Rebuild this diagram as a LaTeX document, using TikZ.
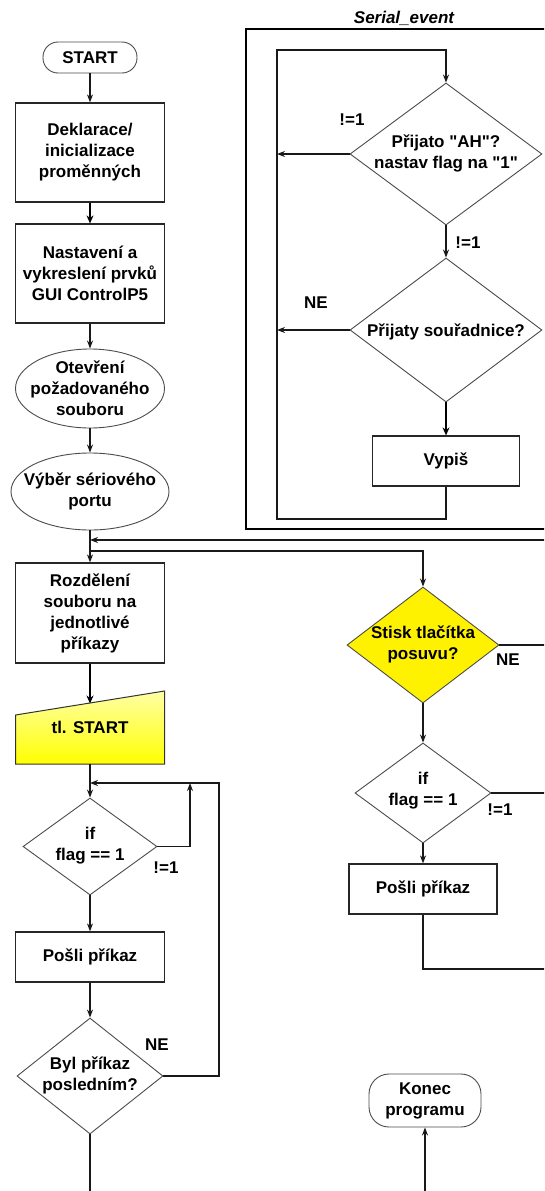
\documentclass[tikz,border=0pt]{standalone}
\usepackage{fontspec}
\setmainfont{Liberation Sans}
\usetikzlibrary{shapes.geometric,arrows.meta,calc}
\begin{document}
\begin{tikzpicture}[x=1pt,y=-1pt,
  txt/.style={font=\bfseries\fontsize{17}{21}\selectfont, align=center, inner sep=0pt},
  box/.style={txt, draw=black!85, line width=1.2pt, rectangle, minimum width=149pt},
  term/.style={txt, draw=black!70, line width=0.9pt, rectangle, rounded corners=#1},
  ell/.style={draw=black!70, line width=0.9pt, ellipse, inner sep=0pt},
  dia/.style={draw=black!70, line width=0.9pt, diamond, inner sep=0pt},
  lab/.style={txt},
  conn/.style={line width=1.3pt, black!90},
  arr/.style={conn, -{Stealth[length=8pt,width=6pt]}},
  tharr/.style={black, line width=2.6pt, -{Stealth[length=8pt,width=7pt]}},
  frame/.style={line width=2.6pt, black}]
\useasboundingbox (0,0) rectangle (544,1191);
\clip (0,0) rectangle (544,1191);
\fill[white] (0,0) rectangle (544,1191);

% ---------- left column ----------
\node[term=15pt, minimum width=94pt, minimum height=31pt] (start) at (90,57.5) {START};
\node[box, minimum height=99pt] (dekl) at (90,152.5) {Deklarace/\\inicializace\\proměnných};
\node[box, minimum height=99pt] (nast) at (90,273.5) {Nastavení a\\vykreslení prvků\\GUI ControlP5};
\node[ell, minimum width=149pt, minimum height=79pt] (otev) at (90,388.5) {};
\node[txt] at (otev) {Otevření\\požadovaného\\souboru};
\node[ell, minimum width=158pt, minimum height=77pt] (vyber) at (90,491.5) {};
\node[txt] at (vyber) {Výběr sériového\\portu};
\node[box, minimum height=100pt] (rozd) at (90,613) {Rozdělení\\souboru na\\jednotlivé\\příkazy};

\shade[top color=yellow!35, bottom color=yellow, draw=black!80, line width=1pt]
  (15.5,715) -- (164.5,691) -- (164.5,764) -- (15.5,764) -- cycle;
\node[txt] (tl) at (90,727) {tl. START};
\coordinate (tltop) at (90,703.5);
\coordinate (tlbot) at (90,764);

\node[dia, minimum width=134pt, minimum height=97pt] (if1) at (90,846.5) {};
\node[txt] at (90,846) {if\\flag == 1};
\node[box, minimum height=50pt] (posli1) at (90,957) {Pošli příkaz};
\node[dia, minimum width=146pt, minimum height=116pt] (byl) at (90,1076) {};
\node[txt] at (90,1075) {Byl příkaz\\posledním?};

\coordinate (j540) at (90,540);
\coordinate (r540) at (550,540);
\coordinate (j551) at (90,551);
\coordinate (j783) at (90,783);
\coordinate (k219) at (219,783);
\coordinate (k190) at (190,783);
\coordinate (lbot) at (90,1195);

\draw[arr] (start) -- (dekl);
\draw[tharr] (dekl) -- (nast);
\draw[arr] (nast) -- (otev);
\draw[arr] (otev) -- (vyber);
\draw[arr] (vyber) -- (rozd);
\draw[arr] (r540) -- (j540);
\draw[tharr] (rozd) -- (tltop);
\draw[arr] (tlbot) -- (if1.north);
\draw[arr] (byl.east) -| (k219) -- (j783);
\draw[arr] (if1.east) -| (k190);
\draw[arr] (if1.south) -- (posli1);
\draw[arr] (posli1) -- (byl.north);
\draw[conn] (byl.south) -- (lbot);
\node[lab] at (166,868) {!=1};
\node[lab] at (157,1045) {NE};

% ---------- Serial_event ----------
\draw[frame] (560,29) -- (246,29) -- (246,529) -- (560,529);
\node[txt, font=\bfseries\itshape\fontsize{17}{21}\selectfont] (ser) at (404,18) {Serial\_event};
\node[dia, minimum width=192pt, minimum height=142pt] (d1) at (446,154) {};
\node[txt] at (446,153) {Přijato \textquotedbl AH\textquotedbl ?\\nastav flag na \textquotedbl 1\textquotedbl};
\node[dia, minimum width=192pt, minimum height=144pt] (d2) at (446,330) {};
\node[txt] at (446,332) {Přijaty souřadnice?};
\node[box, minimum width=147pt, minimum height=50pt] (vypis) at (446,461) {Vypiš};
\coordinate (sBL) at (277,519);
\coordinate (sTL) at (277,50);
\draw[arr] (vypis.south) |- (sBL) -- (sTL) -| (d1.north);
\draw[arr] (d1.west) -- (d1.west -| sTL);
\draw[arr] (d1.south) -- (d2.north);
\draw[arr] (d2.west) -- (d2.west -| sTL);
\draw[tharr] (d2.south) -- (vypis.north);
\node[lab] at (352,120) {!=1};
\node[lab] at (468,243) {!=1};
\node[lab] at (316,303) {NE};

% ---------- right lower part ----------
\node[dia, fill=yellow, minimum width=152pt, minimum height=116pt] (stisk) at (423,645) {};
\node[txt] at (423,644) {Stisk tlačítka\\posuvu?};
\node[dia, minimum width=136pt, minimum height=100pt] (if2) at (423,793) {};
\node[txt] at (423,791) {if\\flag == 1};
\node[box, minimum width=148pt, minimum height=50pt] (posli2) at (423,889) {Pošli příkaz};
\node[term=20pt, minimum width=112pt, minimum height=53pt] (konec) at (425,1100.5) {Konec\\programu};

\coordinate (rs) at (550,645);
\coordinate (ri) at (550,793);
\coordinate (p969) at (423,969);
\coordinate (r969) at (550,969);
\coordinate (kbot) at (425,1195);

\draw[arr] (j551) -| (stisk.north);
\draw[conn] (stisk.east) -- (rs);
\draw[arr] (stisk.south) -- (if2.north);
\draw[conn] (if2.east) -- (ri);
\draw[arr] (if2.south) -- (posli2);
\draw[conn] (posli2.south) -- (p969) -- (r969);
\draw[arr] (kbot) -- (konec.south);
\node[lab] at (508,660) {NE};
\node[lab] at (500,810) {!=1};
\end{tikzpicture}
\end{document}
